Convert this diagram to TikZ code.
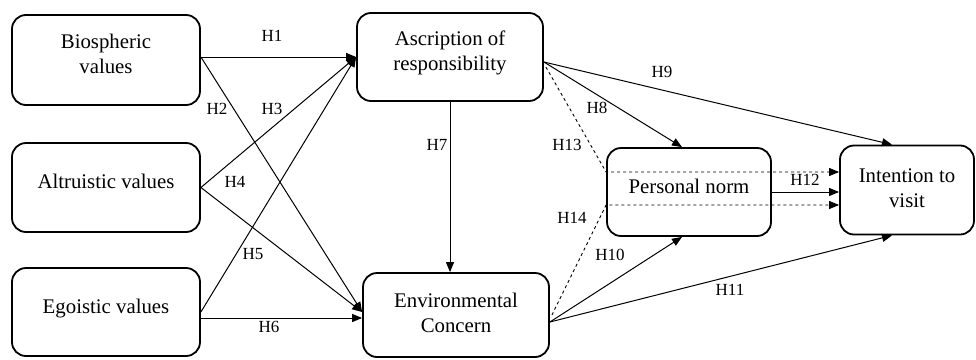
\documentclass[tikz,border=0pt]{standalone}
\usepackage{fontspec}
\setmainfont{Liberation Serif}
\usetikzlibrary{arrows.meta}
\tikzset{
  var/.style={draw,line width=1.8pt,rounded corners=14pt,align=center,inner sep=0pt,
    text depth=12pt,font=\fontsize{20.8}{25}\selectfont},
  hyp/.style={-{Triangle[length=10pt,width=8pt]},line width=1pt},
  med/.style={hyp,dashed,line width=0.9pt},
  lbl/.style={font=\fontsize{17}{20}\selectfont,inner sep=0pt}
}

\begin{document}
\begin{tikzpicture}[x=1pt,y=-1pt]
\useasboundingbox (0,0) rectangle (976,359);
% constructs
\node[var,minimum width=188pt,minimum height=90pt] (bio) at (106,60) {Biospheric\\values};
\node[var,minimum width=188pt,minimum height=89pt] (alt) at (106,187.5) {Altruistic values};
\node[var,minimum width=188pt,minimum height=88pt] (ego) at (106,312) {Egoistic values};
\node[var,minimum width=186pt,minimum height=88pt] (asc) at (450,57) {Ascription of\\responsibility};
\node[var,minimum width=186pt,minimum height=84pt,text depth=4pt] (env) at (456,315) {Environmental\\Concern};
\node[var,minimum width=164pt,minimum height=88pt] (pn) at (689,192) {Personal norm};
\node[var,minimum width=134pt,minimum height=89pt,text depth=4pt] (itv) at (907,190) {Intention to\\visit};
% paths
\draw[hyp] ([yshift=3pt]bio.east) -- (asc.west);
\draw[hyp] ([yshift=3pt]bio.east) -- ([yshift=3pt]env.west);
\draw[hyp] (alt.east) -- (asc.west);
\draw[hyp] (alt.east) -- ([yshift=3pt]env.west);
\draw[hyp] (ego.east) -- (asc.west);
\draw[hyp] ([yshift=-6pt]ego.east) -- ([yshift=-3pt]env.west);
\draw[hyp] (asc.south) -- (asc.south |- env.north);
\draw[hyp] ([yshift=-5pt]asc.east) -- ([xshift=-7pt]pn.north);
\draw[hyp] ([yshift=-5pt]asc.east) -- ([xshift=-15pt]itv.north);
\draw[hyp] ([yshift=-7pt]env.east) -- ([xshift=-7pt]pn.south);
\draw[hyp] ([yshift=-7pt]env.east) -- ([xshift=-15pt]itv.south);
\draw[hyp] (pn.east) -- (pn.east -| itv.west);
% mediation
\draw[med] ([xshift=2pt,yshift=-10pt]asc.east) -- ([yshift=20pt]pn.west) -- ([yshift=20pt]pn.west -| itv.west);
\draw[med] ([xshift=2pt]env.east) -- ([yshift=-13pt]pn.west) -- ([yshift=-13pt]pn.west -| itv.west);
% labels
\node[lbl] (h1) at (272,36) {H1};
\node[lbl] (h2) at (217,109) {H2};
\node[lbl] (h3) at (272,109) {H3};
\node[lbl] (h4) at (235,182) {H4};
\node[lbl] (h5) at (253,254) {H5};
\node[lbl] (h6) at (269,327) {H6};
\node[lbl] (h7) at (437,145) {H7};
\node[lbl] (h8) at (597,108) {H8};
\node[lbl] (h9) at (662,72) {H9};
\node[lbl] (h10) at (610,255) {H10};
\node[lbl] (h11) at (730,290) {H11};
\node[lbl] (h12) at (805,180) {H12};
\node[lbl] (h13) at (567,145) {H13};
\node[lbl] (h14) at (572,218) {H14};
\end{tikzpicture}
\end{document}
